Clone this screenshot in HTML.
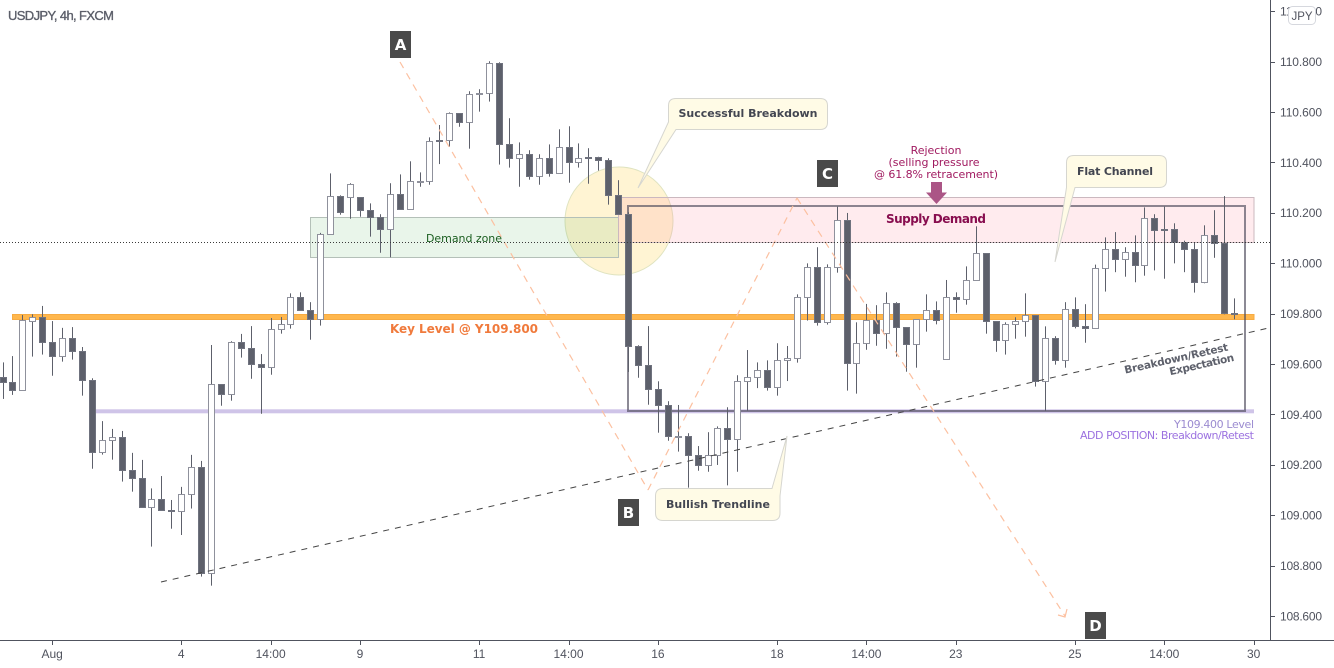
<!DOCTYPE html>
<html lang="en">
<head>
<meta charset="utf-8">
<title>USDJPY, 4h, FXCM</title>
<style>
html,body{margin:0;padding:0;background:#fff;width:1334px;height:668px;overflow:hidden}
svg{display:block}
.anno{font-family:"DejaVu Sans",sans-serif}
.tick{font-family:"Liberation Sans",sans-serif;font-size:12px;fill:#50535e}
</style>
</head>
<body>
<svg id="chart" xmlns="http://www.w3.org/2000/svg" width="1334" height="668" viewBox="0 0 1334 668">
  <rect x="0" y="0" width="1334" height="668" fill="#ffffff"/>
  <g id="zones-layer">
    <circle cx="619" cy="221" r="54" fill="#ffe9a8" fill-opacity="0.5" stroke="#dfe3c0" stroke-width="1"/>
    <rect x="310.5" y="217.5" width="308" height="40" fill="#4caf50" fill-opacity="0.12" stroke="#b4c0b8" stroke-width="1"/>
    <rect x="618.5" y="197.5" width="635.5" height="45" fill="#ff8a9a" fill-opacity="0.17" stroke="#cbb8bf" stroke-width="1"/>
  </g>
  <g id="levels-layer"></g>
  <rect x="628" y="206" width="617" height="205" fill="none" stroke="#4f4c5c" stroke-opacity="0.65" stroke-width="2"/>
  <g id="candles-layer"></g>
  <g fill="none" stroke="#fcc0a0" stroke-width="1.2" stroke-dasharray="7 6">
    <line x1="400" y1="62" x2="648" y2="490"/>
    <line x1="648" y1="490" x2="797" y2="198"/>
    <line x1="797" y1="198" x2="1065" y2="616"/>
    <path stroke-dasharray="none" d="M1058 615L1065 617L1067 609"/>
  </g>
  <line x1="161" y1="582" x2="1270" y2="327.7" stroke="#444444" stroke-width="1" stroke-dasharray="6 6"/>
  <line x1="0" y1="242.5" x2="1270" y2="242.5" stroke="#3a3a3a" stroke-width="1" stroke-dasharray="1 2"/>

  <g>
    <path d="M676 98.5H820Q827.5 98.5 827.5 105.5V122.5Q827.5 129.5 820 129.5H676L638 188L668.5 122V105.5Q668.5 98.5 676 98.5Z" fill="#fffbe6" stroke="#d6d6d0" stroke-width="1"/>
    <text class="anno" x="748" y="117" font-size="11" font-weight="700" fill="#434651" text-anchor="middle" textLength="139">Successful Breakdown</text>
  </g>
  <g>
    <path d="M1074 155.5H1159Q1166.5 155.5 1166.5 162.5V180.5Q1166.5 187.5 1159 187.5H1075L1055 262L1066.5 187.5V162.5Q1066.5 155.5 1074 155.5Z" fill="#fffbe6" stroke="#d6d6d0" stroke-width="1"/>
    <text class="anno" x="1115" y="175" font-size="11" font-weight="700" fill="#434651" text-anchor="middle" textLength="76">Flat Channel</text>
  </g>
  <g>
    <path d="M663 488.5H772L787 436L780 496V513Q780 520.5 772.5 520.5H663Q655.5 520.5 655.5 513V496Q655.5 488.5 663 488.5Z" fill="#fffbe6" stroke="#d6d6d0" stroke-width="1"/>
    <text class="anno" x="718" y="508" font-size="11" font-weight="700" fill="#434651" text-anchor="middle" textLength="104">Bullish Trendline</text>
  </g>

  <g font-family="'DejaVu Sans',sans-serif" font-size="15" font-weight="700" fill="#ffffff" text-anchor="middle">
    <g><rect x="390" y="31" width="21" height="27" fill="#4a4a4a"/><text x="400.5" y="50">A</text></g>
    <g><rect x="618" y="499" width="21" height="27" fill="#4a4a4a"/><text x="628.5" y="518">B</text></g>
    <g><rect x="817" y="160" width="21" height="27" fill="#4a4a4a"/><text x="827.5" y="179">C</text></g>
    <g><rect x="1085" y="612" width="21" height="27" fill="#4a4a4a"/><text x="1095.5" y="631">D</text></g>
  </g>

  <text class="anno" x="464" y="242" font-size="11" fill="#1b5e20" text-anchor="middle" textLength="76">Demand zone</text>
  <text class="anno" x="936" y="223" font-size="12" font-weight="700" fill="#880e4f" text-anchor="middle" textLength="100">Supply Demand</text>
  <text class="anno" x="464" y="333" font-size="12" font-weight="700" fill="#f07a3c" text-anchor="middle" textLength="148">Key Level @ Y109.800</text>
  <g class="anno" font-size="11" fill="#a01a60" text-anchor="middle">
    <text x="936" y="154">Rejection</text>
    <text x="934" y="166" textLength="91">(selling pressure</text>
    <text x="936" y="178" textLength="124">@ 61.8% retracement)</text>
  </g>
  <path d="M931 182H942V192.5H947L936.5 204L926 192.5H931Z" fill="#ab5586"/>
  <text class="anno" x="1254" y="428" font-size="11" fill="#9b8bd0" text-anchor="end" textLength="80">Y109.400 Level</text>
  <text class="anno" x="1254" y="439" font-size="11" fill="#9c72e0" text-anchor="end" textLength="174">ADD POSITION: Breakdown/Retest</text>
  <text class="anno" transform="translate(1177 362) rotate(-12.7)" font-size="10.5" font-weight="700" fill="#5d606b" text-anchor="middle" textLength="106">Breakdown/Retest</text>
  <text class="anno" transform="translate(1202.5 368) rotate(-12.7)" font-size="10.5" font-weight="700" fill="#5d606b" text-anchor="middle" textLength="66">Expectation</text>

  <text x="8" y="20" font-family="'Liberation Sans',sans-serif" font-size="13" font-weight="400" fill="#5b5e69" stroke="#5b5e69" stroke-width="0.35" textLength="106">USDJPY, 4h, FXCM</text>

  <line x1="1270.5" y1="0" x2="1270.5" y2="640" stroke="#50535e" stroke-width="1"/>
  <line x1="0" y1="640.5" x2="1334" y2="640.5" stroke="#50535e" stroke-width="1"/>
  <g id="axes-layer"></g>
  <g>
    <rect x="1288.5" y="6.5" width="27" height="18" rx="4" fill="#ffffff" stroke="#d6d8de" stroke-width="1"/>
    <text x="1302" y="20" font-family="'Liberation Sans',sans-serif" font-size="11.5" fill="#50535e" text-anchor="middle">JPY</text>
  </g>
</svg>
<script>
var priceTicks = ["111.000","110.800","110.600","110.400","110.200","110.000","109.800","109.600","109.400","109.200","109.000","108.800","108.600"];
var timeTickLabels = ["Aug","4","14:00","9","11","14:00","16","18","14:00","23","25","14:00","30"];
var timeTickBars = [5,18,27,36,48,57,66,78,87,96,108,117,126];
var keyLevel = [109.8];
var addLevel = [109.4];
var openPrices = [109.547,109.527,109.495,109.772,109.785,109.686,109.630,109.702,109.650,109.535,
109.249,109.297,109.309,109.180,109.146,109.033,109.063,109.022,109.018,109.083,
109.190,108.769,109.519,109.479,109.686,109.664,109.598,109.589,109.737,109.757,
109.864,109.815,109.779,110.114,110.265,110.261,110.261,110.212,110.184,110.137,
110.273,110.216,110.323,110.325,110.487,110.487,110.594,110.559,110.670,110.674,
110.793,110.474,110.416,110.432,110.344,110.416,110.356,110.460,110.400,110.420,
110.420,110.408,110.269,110.193,109.670,109.595,109.499,109.436,109.311,109.313,
109.237,109.198,109.237,109.344,109.301,109.531,109.547,109.575,109.510,109.614,
109.622,109.864,109.983,109.765,109.983,110.170,109.602,109.682,109.773,109.722,
109.841,109.745,109.678,109.777,109.813,109.618,109.864,109.859,109.932,110.039,
109.769,109.694,109.757,109.769,109.793,109.531,109.702,109.614,109.817,109.749,
109.741,109.979,110.055,110.015,110.043,109.991,110.178,110.134,110.134,110.083,
110.055,109.924,110.110,110.079,109.801];
var highPrices = [109.606,109.631,109.794,109.797,109.830,109.770,109.743,109.746,109.667,109.543,
109.373,109.342,109.334,109.247,109.219,109.106,109.155,109.060,109.112,109.239,
109.215,109.675,109.519,109.690,109.719,109.750,109.639,109.782,109.786,109.880,
109.884,109.845,110.120,110.356,110.269,110.317,110.261,110.237,110.194,110.317,
110.352,110.404,110.360,110.499,110.548,110.598,110.594,110.682,110.690,110.801,
110.797,110.575,110.479,110.448,110.432,110.471,110.531,110.543,110.475,110.456,
110.422,110.416,110.329,110.202,109.674,109.750,109.531,109.452,109.437,109.325,
109.274,109.329,109.352,109.428,109.555,109.655,109.606,109.614,109.682,109.671,
109.876,109.999,110.063,109.995,110.225,110.199,109.765,109.838,109.833,109.884,
109.845,109.745,109.777,109.876,109.848,109.933,109.884,109.987,110.146,110.039,
109.769,109.765,109.785,109.880,109.793,109.749,109.710,109.845,109.864,109.837,
109.994,110.102,110.123,110.063,110.110,110.221,110.194,110.225,110.158,110.089,
110.083,110.150,110.210,110.266,109.860];
var lowPrices = [109.461,109.477,109.495,109.629,109.637,109.553,109.609,109.617,109.474,109.184,
109.240,109.220,109.133,109.093,109.029,108.875,109.018,108.946,108.921,109.026,
108.756,108.720,109.434,109.454,109.625,109.541,109.402,109.557,109.720,109.740,
109.811,109.696,109.752,110.114,110.192,110.176,110.184,110.105,110.041,110.023,
110.212,110.216,110.303,110.311,110.393,110.462,110.541,110.454,110.601,110.641,
110.391,110.379,110.303,110.331,110.311,110.343,110.356,110.319,110.379,110.315,
110.367,110.232,110.193,109.568,109.545,109.438,109.327,109.295,109.252,109.109,
109.176,109.172,109.199,109.118,109.172,109.414,109.504,109.494,109.474,109.532,
109.605,109.772,109.752,109.756,109.962,109.494,109.482,109.656,109.672,109.660,
109.629,109.569,109.585,109.728,109.757,109.618,109.803,109.835,109.932,109.720,
109.648,109.637,109.700,109.708,109.510,109.413,109.597,109.585,109.741,109.684,
109.741,109.887,109.964,109.946,109.924,109.950,109.971,109.938,109.999,109.964,
109.883,109.920,110.021,109.797,109.777];
var closePrices = [109.527,109.495,109.773,109.785,109.686,109.630,109.702,109.650,109.535,109.249,
109.297,109.309,109.180,109.146,109.033,109.063,109.022,109.018,109.083,109.190,
108.769,109.519,109.479,109.686,109.664,109.598,109.589,109.737,109.757,109.864,
109.815,109.779,110.114,110.265,110.204,110.313,110.212,110.184,110.137,110.273,
110.216,110.325,110.326,110.483,110.483,110.594,110.559,110.670,110.674,110.793,
110.474,110.416,110.432,110.344,110.416,110.356,110.460,110.400,110.416,110.416,
110.408,110.269,110.193,109.670,109.595,109.499,109.436,109.313,109.313,109.237,
109.198,109.237,109.344,109.301,109.531,109.547,109.575,109.510,109.614,109.622,
109.864,109.983,109.765,109.983,110.170,109.602,109.682,109.773,109.722,109.841,
109.745,109.678,109.777,109.813,109.773,109.864,109.859,109.932,110.039,109.769,
109.694,109.757,109.769,109.793,109.531,109.702,109.614,109.817,109.749,109.741,
109.979,110.055,110.015,110.043,109.991,110.178,110.130,110.130,110.083,110.055,
109.924,110.110,110.079,109.801,109.797];

var NS = 'http://www.w3.org/2000/svg';
function xOf(bar){ return 2.5 + bar * 9.93; }
function yOf(price){ return 61.5 + (110.8 - price) * 252; }
function make(tag, parent){
  var el = document.createElementNS(NS, tag);
  parent.appendChild(el);
  return el;
}

var levelsLayer = document.getElementById('levels-layer');
keyLevel.forEach(function(level){
  var band = make('rect', levelsLayer);
  
  
  band.setAttribute('x', 12.5);
  band.setAttribute('y', yOf(level) + 1);
  band.setAttribute('width', 1241.5);
  band.setAttribute('height', 5);
  band.setAttribute('fill', '#ffb74d');
  band.setAttribute('stroke', '#f7ab42');
  band.setAttribute('stroke-width', 1);
});
addLevel.forEach(function(level){
  var band = make('rect', levelsLayer);
  
  
  band.setAttribute('x', 96);
  band.setAttribute('y', yOf(level) - 5);
  band.setAttribute('width', 1158);
  band.setAttribute('height', 4);
  band.setAttribute('fill', '#cfc4e8');
});

var candlesLayer = document.getElementById('candles-layer');
openPrices.forEach(function(open, i){
  var close = closePrices[i];
  var up = close >= open;
  var cx = Math.round(xOf(i));
  var top = Math.round(yOf(Math.max(open, close)));
  var bottom = Math.round(yOf(Math.min(open, close)));
  var group = make('g', candlesLayer);
  
  
  var wick = make('rect', group);
  
  
  wick.setAttribute('x', cx);
  wick.setAttribute('y', yOf(highPrices[i]));
  wick.setAttribute('width', 1);
  wick.setAttribute('height', Math.max(0, yOf(lowPrices[i]) - yOf(highPrices[i])));
  wick.setAttribute('fill', '#5d606b');
  var body = make('rect', group);
  
  
  body.setAttribute('x', cx - 2.5);
  body.setAttribute('y', top + 0.5);
  body.setAttribute('width', 6);
  body.setAttribute('height', Math.max(1, bottom - top));
  body.setAttribute('fill', up ? '#ffffff' : '#5d606b');
  body.setAttribute('stroke', up ? '#8f919c' : '#6f727e');
  body.setAttribute('stroke-width', 1);
});

var axesLayer = document.getElementById('axes-layer');
priceTicks.forEach(function(label){
  var y = yOf(parseFloat(label));
  var tick = make('line', axesLayer);
  
  
  tick.setAttribute('x1', 1271);
  tick.setAttribute('x2', 1275);
  tick.setAttribute('y1', Math.round(y) + 0.5);
  tick.setAttribute('y2', Math.round(y) + 0.5);
  tick.setAttribute('stroke', '#50535e');
  var text = make('text', axesLayer);
  
  
  text.setAttribute('class', 'tick');
  text.setAttribute('x', 1280);
  text.setAttribute('y', y + 4.5);
  text.setAttribute('textLength', 42);
  text.textContent = label;
});
timeTickLabels.forEach(function(label, k){
  var x = xOf(timeTickBars[k]);
  var tick = make('line', axesLayer);
  
  
  tick.setAttribute('x1', Math.round(x) + 0.5);
  tick.setAttribute('x2', Math.round(x) + 0.5);
  tick.setAttribute('y1', 641);
  tick.setAttribute('y2', 645);
  tick.setAttribute('stroke', '#50535e');
  var text = make('text', axesLayer);
  
  
  text.setAttribute('class', 'tick');
  text.setAttribute('x', x);
  text.setAttribute('y', 658);
  text.setAttribute('text-anchor', 'middle');
  text.textContent = label;
});
</script>
</body>
</html>
